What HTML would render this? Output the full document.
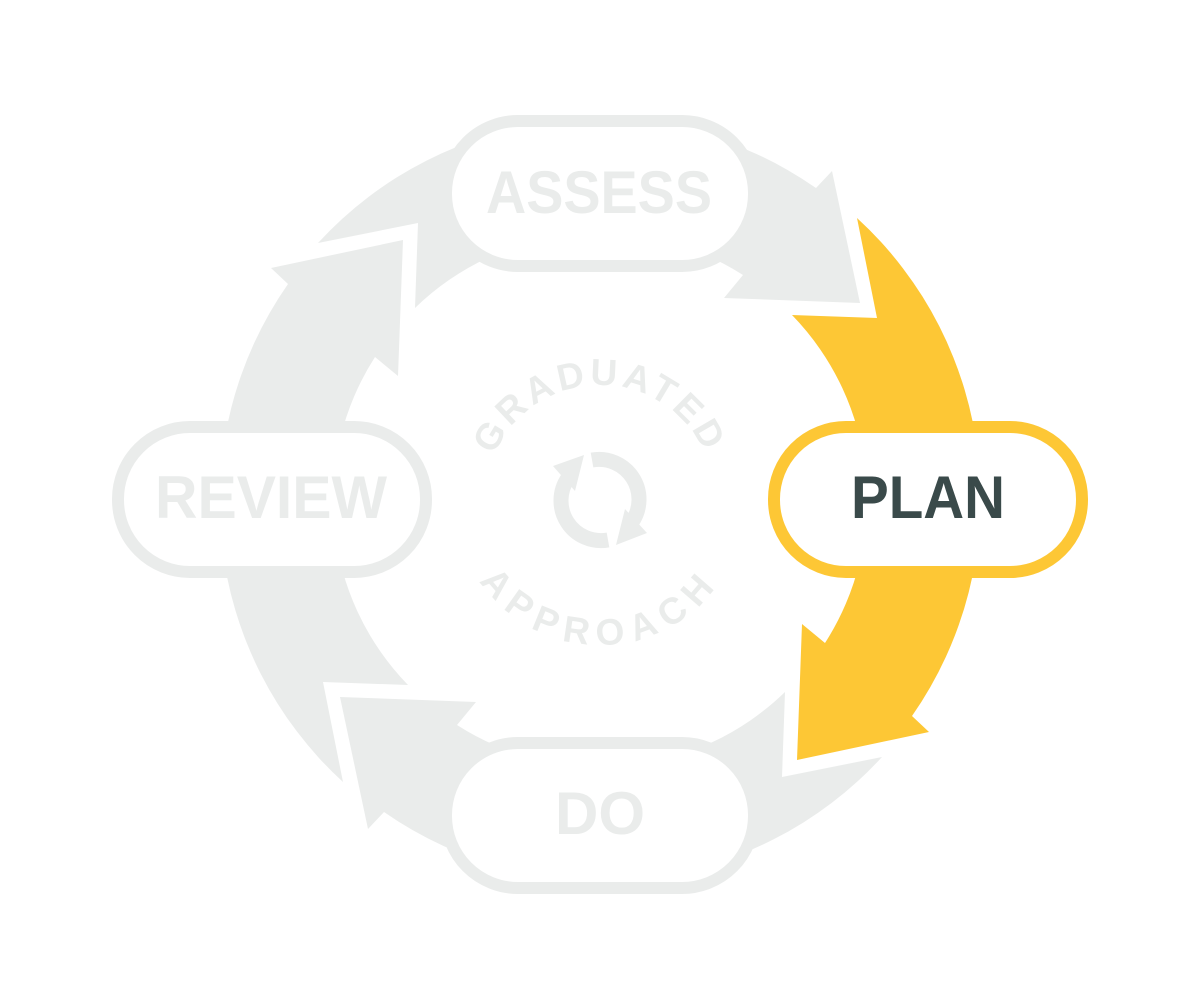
<!DOCTYPE html>
<html><head><style>html,body{margin:0;padding:0;background:#fff}</style></head>
<body>
<svg width="1200" height="1000" viewBox="0 0 1200 1000" xmlns="http://www.w3.org/2000/svg">
<defs>
<path id="arr" d="M 857 218 A 380 380 0 0 1 912 716 L 929 732 L 797 760 L 802 624 L 825 643 A 265 265 0 0 0 792 315 L 877 318 Z"/>
<path id="topArc" d="M 485 500 A 115 115 0 0 1 715 500"/>
<path id="botArc" d="M 455 500 A 145 145 0 0 0 745 500"/>
</defs>
<g fill="#eaeceb">
<use href="#arr" transform="rotate(-90 600 500)"/>
<use href="#arr" transform="rotate(180 600 500)"/>
<use href="#arr" transform="rotate(90 600 500)"/>
</g>
<use href="#arr" fill="#fdc735"/>

<g font-family="Liberation Sans, sans-serif" font-weight="bold" text-anchor="middle">
<rect x="446" y="121" width="308" height="145" rx="72" fill="#fff" stroke="#eaeceb" stroke-width="12"/>
<text x="599" y="213" font-size="60" fill="#eaeceb" textLength="226" lengthAdjust="spacingAndGlyphs">ASSESS</text>

<rect x="774" y="427" width="308" height="145" rx="72" fill="#fff" stroke="#fdc735" stroke-width="12"/>
<text x="928" y="518" font-size="60" fill="#3a4a4a" textLength="154" lengthAdjust="spacingAndGlyphs">PLAN</text>

<rect x="118" y="427" width="308" height="145" rx="72" fill="#fff" stroke="#eaeceb" stroke-width="12"/>
<text x="271" y="518" font-size="60" fill="#eaeceb" textLength="232" lengthAdjust="spacingAndGlyphs">REVIEW</text>

<rect x="446" y="743" width="308" height="145" rx="72" fill="#fff" stroke="#eaeceb" stroke-width="12"/>
<text x="600" y="834" font-size="60" fill="#eaeceb" textLength="90" lengthAdjust="spacingAndGlyphs">DO</text>
</g>
<text font-family="Liberation Sans, sans-serif" font-weight="bold" font-size="37" fill="#eaeceb" text-anchor="middle" letter-spacing="4"><textPath href="#topArc" startOffset="50%">GRADUATED</textPath></text>
<text font-family="Liberation Sans, sans-serif" font-weight="bold" font-size="37" fill="#eaeceb" text-anchor="middle" letter-spacing="9"><textPath href="#botArc" startOffset="50%">APPROACH</textPath></text>

<g fill="none" stroke="#eaeceb" stroke-width="15">
<path d="M 592 460 A 40 40 0 0 1 632 522"/>
<path d="M 608 540 A 40 40 0 0 1 568 478"/>
</g>
<g fill="#eaeceb">
<polygon points="553,466 584,455 575,491"/>
<polygon points="647,533 616,545 625,509"/>
</g>
</svg>
</body></html>
